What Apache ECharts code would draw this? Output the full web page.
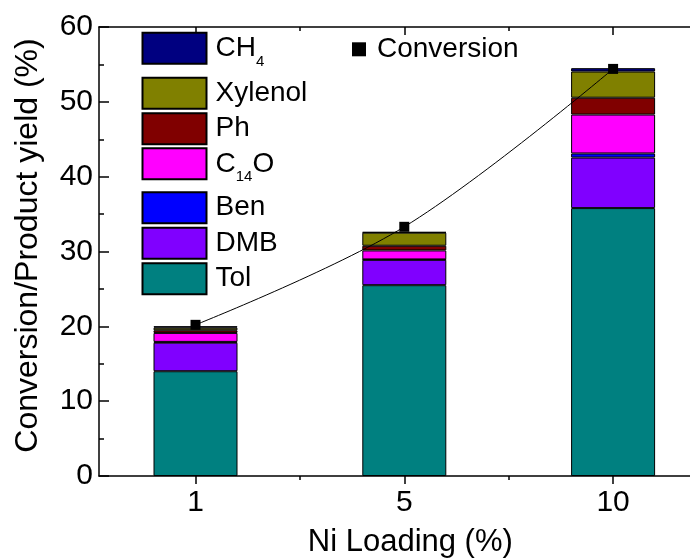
<!DOCTYPE html>
<html>
<head>
<meta charset="utf-8">
<script src="https://cdn.jsdelivr.net/npm/echarts@6/dist/echarts.min.js"></script>
<style>html,body{margin:0;padding:0;background:#fff}#c{width:690px;height:558px}</style>
</head>
<body>
<div id="c"></div>
<script>
// ---- data ----
const categories = ['1', '5', '10'];          // Ni loading (%)
const catPos = [1, 2, 3];                      // position of each category on the x scale
const tol = [14.0, 25.5, 35.8];
const dmb = [3.82, 3.39, 6.75];
const ben = [0.1, 0.05, 0.55];
const c14o = [1.2, 1.2, 5.2];
const ph = [0.35, 0.63, 2.25];
const xylenol = [0.35, 1.75, 3.5];
const ch4 = [0.2, 0.08, 0.45];
const conversion = [20.2, 33.3, 54.4];
const minorTickPos = [1.5, 2.5];

const FONT = "'Liberation Sans', Arial, sans-serif";

const barDefs = [
  ['Tol', tol, '#008080'],
  ['DMB', dmb, '#8000ff'],
  ['Ben', ben, '#0000ff'],
  ['C14O', c14o, '#ff00ff'],
  ['Ph', ph, '#800000'],
  ['Xylenol', xylenol, '#808000'],
  ['CH4', ch4, '#000080']
];

// value first so the stack is computed on the y dimension
const series = barDefs.map(([name, arr, color]) => ({
  name, type: 'bar', stack: 'total', barWidth: 84,
  data: arr.map((v, i) => [v, catPos[i]]),
  encode: { x: 1, y: 0 },
  itemStyle: { color, borderColor: '#000', borderWidth: 1 },
  z: 2
}));
series.push({
  name: 'Conversion', type: 'line', data: conversion.map((v, i) => [catPos[i], v]),
  smooth: 0.35, symbol: 'rect', symbolSize: 10,
  itemStyle: { color: '#000' }, lineStyle: { color: '#000', width: 1 }, z: 5
});

const richText = {
  n: { fontSize: 28, lineHeight: 32, fontFamily: FONT, color: '#000' },
  s: { fontSize: 15, lineHeight: 15, fontFamily: FONT, color: '#000', padding: [27, 0, 0, 0] }
};
const fmt = name => {
  if (name === 'CH4') return '{n|CH}{s|4}';
  if (name === 'C14O') return '{n|C}{s|14}{n|O}';
  return '{n|' + name + '}';
};
const legendTops = { CH4: 27.2, Xylenol: 76.8, Ph: 112.2, C14O: 142.8, Ben: 191.2, DMB: 226.8, Tol: 262.2 };
const legends = Object.keys(legendTops).map(name => ({
  data: [name], left: 141.5, top: legendTops[name], padding: 0,
  itemWidth: 64, itemHeight: 31, icon: 'rect', formatter: fmt,
  textStyle: { rich: richText, padding: [0, 0, 0, 4] }
}));
legends.push({
  data: ['Conversion'], left: 352, top: 33.3, padding: 0,
  itemWidth: 14, itemHeight: 14, icon: 'rect',
  textStyle: { fontSize: 28, lineHeight: 32, fontFamily: FONT, color: '#000', padding: [0, 0, 0, 6] }
});

const xMin = 0.5378, xMax = 3.4622;
const lineStyle = { color: '#000', width: 1.5 };
const chart = echarts.init(document.getElementById('c'), null, { renderer: 'canvas' });
chart.setOption({
  animation: false,
  textStyle: { fontFamily: FONT },
  grid: { left: 99, top: 27, width: 610.6, height: 449, containLabel: false, outerBoundsMode: 'none' },
  legend: legends,
  xAxis: [
    {
      type: 'value', position: 'bottom', min: xMin, max: xMax,
      axisLine: { show: true, lineStyle },
      axisTick: { show: true, inside: false, length: 8, customValues: catPos, lineStyle },
      axisLabel: { show: true, customValues: catPos, fontSize: 30, color: '#000', margin: 12, fontFamily: FONT,
        formatter: v => categories[catPos.indexOf(Math.round(v))] },
      splitLine: { show: false },
      name: 'Ni Loading (%)', nameLocation: 'middle', nameGap: 51,
      nameTextStyle: { fontSize: 31, color: '#000', fontFamily: FONT, padding: [0, 0, 0, 12] }
    },
    {
      type: 'value', position: 'bottom', min: xMin, max: xMax,
      axisLine: { show: false },
      axisTick: { show: true, inside: false, length: 4, customValues: minorTickPos, lineStyle },
      axisLabel: { show: false }, splitLine: { show: false }
    },
    {
      type: 'value', position: 'top', min: xMin, max: xMax,
      axisLine: { show: true, lineStyle },
      axisTick: { show: true, inside: true, length: 8, customValues: catPos, lineStyle },
      axisLabel: { show: false }, splitLine: { show: false }
    },
    {
      type: 'value', position: 'top', min: xMin, max: xMax,
      axisLine: { show: false },
      axisTick: { show: true, inside: true, length: 4, customValues: minorTickPos, lineStyle },
      axisLabel: { show: false }, splitLine: { show: false }
    }
  ],
  yAxis: {
    type: 'value', min: 0, max: 60, interval: 10,
    axisLine: { show: true, lineStyle },
    axisTick: { show: true, inside: true, length: 10, lineStyle },
    minorTick: { show: true, splitNumber: 2, length: 5, lineStyle },
    axisLabel: { fontSize: 30, color: '#000', margin: 6, fontFamily: FONT },
    splitLine: { show: false },
    name: 'Conversion/Product yield (%)', nameLocation: 'middle', nameGap: 55, nameRotate: 90,
    nameTextStyle: { fontSize: 32, color: '#000', fontFamily: FONT, padding: [0, 0, 0, 12] }
  },
  series
});
</script>
</body>
</html>
